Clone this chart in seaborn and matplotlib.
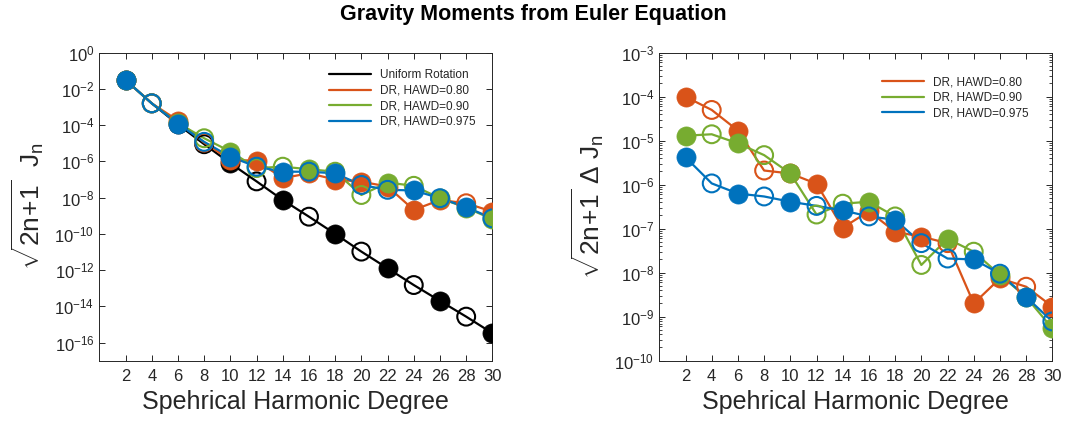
import pandas as pd
import seaborn as sns
import matplotlib.pyplot as plt
from matplotlib.ticker import FixedLocator, NullLocator, LogLocator

# degree n (x axis)
degree = [2, 4, 6, 8, 10, 12, 14, 16, 18, 20, 22, 24, 26, 28, 30]

# left panel: sqrt(2n+1) J_n, negative value -> open marker
uniform = [3.1e-2, -1.6e-3, 1.1e-4, -8.9e-6, 7.9e-7, -7.9e-8, 7.4e-9, -8.9e-10,
           1.0e-10, -1.05e-11, 1.26e-12, -1.5e-13, 2.0e-14, -2.7e-15, 3.3e-16]
dr_080 = [3.1e-2, -1.6e-3, 1.8e-4, -1.1e-5, 1.2e-6, 1.1e-6, 1.2e-7, 2.2e-7,
          1.0e-7, 7.6e-8, 4.1e-8, 2.1e-9, 7.4e-9, -4.9e-9, 1.7e-9]
dr_090 = [3.1e-2, -1.6e-3, 1.3e-4, -1.9e-5, 3.5e-6, -4.3e-7, -5.1e-7, 3.7e-7,
          -2.7e-7, -1.4e-8, 6.8e-8, -4.5e-8, 9.3e-9, 2.8e-9, 6.5e-10]
dr_0975 = [3.1e-2, -1.6e-3, 1.2e-4, -1.2e-5, 1.8e-6, -5.1e-7, 2.7e-7, -2.7e-7,
           2.2e-7, -5.0e-8, -2.7e-8, 2.5e-8, -9.3e-9, 3.0e-9, -7.2e-10]

# right panel: sqrt(2n+1) delta J_n
d_080 = [1.0e-4, -5.0e-5, 1.7e-5, -2.1e-6, 1.8e-6, 1.05e-6, 1.05e-7, 2.5e-7,
         8.5e-8, 6.6e-8, -4.7e-8, 2.0e-9, 7.4e-9, -4.8e-9, 1.7e-9]
d_090 = [1.3e-5, -1.4e-5, 8.7e-6, -4.7e-6, 1.8e-6, -2.1e-7, -3.7e-7, 4.1e-7,
         -1.9e-7, -1.5e-8, 5.9e-8, -3.0e-8, 8.9e-9, 2.8e-9, 5.4e-10]
d_0975 = [4.2e-6, -1.07e-6, 6.3e-7, -5.4e-7, 4.1e-7, -3.3e-7, 2.6e-7, -1.9e-7,
          1.6e-7, -4.7e-8, -2.1e-8, 2.0e-8, -9.5e-9, 2.8e-9, -7.8e-10]

names = ["Uniform Rotation", "DR, HAWD=0.80", "DR, HAWD=0.90", "DR, HAWD=0.975"]
colors = ["black", "#D95319", "#77AC30", "#0072BD"]

sns.set_style("ticks")
plt.rcParams["font.family"] = ["Liberation Sans", "DejaVu Sans"]
plt.rcParams["mathtext.fontset"] = "custom"
plt.rcParams["mathtext.rm"] = "Liberation Sans"
plt.rcParams["mathtext.it"] = "Liberation Sans"
plt.rcParams["axes.unicode_minus"] = False
plt.rcParams["axes.edgecolor"] = "#262626"
plt.rcParams["xtick.color"] = "#262626"
plt.rcParams["ytick.color"] = "#262626"

fig = plt.figure(figsize=(10.66, 4.25), dpi=100)
ax1 = fig.add_axes([0.0932, 0.1513, 0.3687, 0.7247])
ax2 = fig.add_axes([0.6185, 0.1513, 0.3687, 0.7247])


def draw(ax, vals, name, col):
    df = pd.DataFrame({"n": degree, "J": vals})
    df["absJ"] = df["J"].abs()
    sns.lineplot(data=df, x="n", y="absJ", color=col, lw=1.6, ax=ax, label=name)
    sns.scatterplot(data=df[df["J"] > 0], x="n", y="absJ", color=col, edgecolor=col,
                    s=190, linewidth=0.5, ax=ax, legend=False, zorder=3)
    sns.scatterplot(data=df[df["J"] < 0], x="n", y="absJ", facecolor="none", edgecolor=col,
                    s=165, linewidth=1.5, ax=ax, legend=False, zorder=3)


for vals, name, col in zip([uniform, dr_080, dr_090, dr_0975], names, colors):
    draw(ax1, vals, name, col)
for vals, name, col in zip([d_080, d_090, d_0975], names[1:], colors[1:]):
    draw(ax2, vals, name, col)

for ax in (ax1, ax2):
    ax.set_yscale("log")
    ax.set_xlim(0, 30)
    ax.xaxis.set_major_locator(FixedLocator(degree))
    ax.tick_params(direction="in", top=True, right=True, labelsize=12, length=4, width=0.7)
    ax.tick_params(axis="x", pad=6)
    ax.tick_params(which="minor", direction="in", top=True, right=True, length=2.5, width=0.6)
    ax.xaxis.set_minor_locator(NullLocator())
    for s in ax.spines.values():
        s.set_linewidth(0.7)
    ax.set_xlabel("Spehrical Harmonic Degree", fontsize=18, labelpad=4)

ax1.legend(frameon=False, loc="upper right", fontsize=8.5, handlelength=3.5,
           borderaxespad=1.0, labelspacing=0.3)
ax2.legend(frameon=False, loc="upper right", fontsize=8.5, handlelength=3.5,
           borderaxespad=1.6, labelspacing=0.3)

ax1.set_ylim(1e-17, 1e0)
ax1.yaxis.set_major_locator(FixedLocator([10.0 ** (-2 * k) for k in range(9)]))
ax1.yaxis.set_minor_locator(NullLocator())
ax1.set_ylabel(r"$\sqrt{2n\!+\!1}\ \ J_n$", fontsize=19, labelpad=6)

ax2.set_ylim(1e-10, 1e-3)
ax2.yaxis.set_major_locator(LogLocator(base=10, numticks=20))
ax2.yaxis.set_minor_locator(LogLocator(base=10, subs=range(2, 10), numticks=20))
ax2.set_ylabel(r"$\sqrt{2n\!+\!1}\ \Delta\ J_n$", fontsize=19, labelpad=6)

fig.suptitle("Gravity Moments from Euler Equation", fontsize=15.5, fontweight="bold",
             color="black", y=0.99)

fig.savefig("out.png", dpi=100)
